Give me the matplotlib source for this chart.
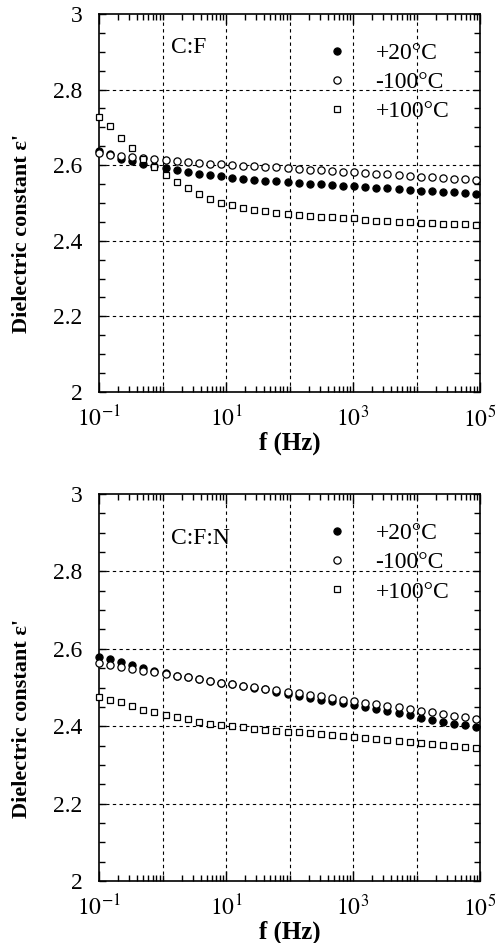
import numpy as np
import matplotlib
matplotlib.use("Agg")
import matplotlib.pyplot as plt
from matplotlib.ticker import LogLocator, NullFormatter, MultipleLocator

plt.rcParams['font.family'] = ['Liberation Serif', 'DejaVu Serif']
plt.rcParams['mathtext.fontset'] = 'stix'

# frequency sweep (Hz), 35 points
freq = [0.100, 0.1495, 0.2236, 0.3343, 0.4997, 0.7471, 1.117, 1.671, 2.498, 3.736,
        5.586, 8.351, 12.49, 18.67, 27.92, 41.74, 62.41, 93.33, 139.5, 208.6,
        311.9, 466.5, 697.4, 1043, 1560, 2331, 3486, 5213, 7795, 11655,
        17426, 26056, 38957, 58248, 87096]

# C:F sample
cf_p20 = [2.638, 2.630, 2.616, 2.611, 2.603, 2.598, 2.592, 2.586, 2.582, 2.577,
          2.573, 2.571, 2.567, 2.564, 2.562, 2.559, 2.557, 2.556, 2.553, 2.551,
          2.549, 2.548, 2.546, 2.544, 2.542, 2.540, 2.539, 2.537, 2.535, 2.533,
          2.532, 2.530, 2.528, 2.526, 2.525]
cf_m100 = [2.631, 2.627, 2.623, 2.621, 2.618, 2.616, 2.614, 2.611, 2.608, 2.607,
           2.604, 2.602, 2.601, 2.599, 2.597, 2.595, 2.594, 2.592, 2.589, 2.587,
           2.586, 2.585, 2.583, 2.581, 2.579, 2.577, 2.576, 2.573, 2.571, 2.570,
           2.568, 2.566, 2.564, 2.563, 2.561]
cf_p100 = [2.727, 2.704, 2.673, 2.645, 2.616, 2.594, 2.574, 2.556, 2.539, 2.525,
           2.511, 2.501, 2.494, 2.488, 2.482, 2.478, 2.474, 2.471, 2.468, 2.466,
           2.464, 2.462, 2.460, 2.459, 2.455, 2.453, 2.452, 2.451, 2.449, 2.448,
           2.447, 2.445, 2.444, 2.444, 2.443]

# C:F:N sample
cfn_p20 = [2.579, 2.574, 2.565, 2.558, 2.551, 2.542, 2.537, 2.531, 2.526, 2.522,
           2.518, 2.512, 2.508, 2.503, 2.499, 2.495, 2.489, 2.484, 2.479, 2.474,
           2.468, 2.464, 2.461, 2.456, 2.449, 2.444, 2.439, 2.433, 2.428, 2.422,
           2.417, 2.412, 2.407, 2.402, 2.397]
cfn_m100 = [2.563, 2.559, 2.553, 2.549, 2.544, 2.539, 2.534, 2.531, 2.526, 2.522,
            2.518, 2.513, 2.510, 2.505, 2.502, 2.497, 2.493, 2.489, 2.485, 2.482,
            2.477, 2.473, 2.469, 2.465, 2.461, 2.457, 2.453, 2.449, 2.445, 2.440,
            2.436, 2.432, 2.427, 2.423, 2.419]
cfn_p100 = [2.475, 2.468, 2.462, 2.453, 2.443, 2.436, 2.430, 2.423, 2.418, 2.412,
            2.407, 2.403, 2.400, 2.397, 2.393, 2.390, 2.388, 2.386, 2.384, 2.382,
            2.380, 2.377, 2.375, 2.372, 2.370, 2.367, 2.365, 2.362, 2.360, 2.357,
            2.355, 2.352, 2.350, 2.347, 2.345]

labels = ['+20°C', '-100°C', '+100°C']
xticks = [1e-1, 1e1, 1e3, 1e5]
xtick_labels = ['$10^{-1}$', '$10^{1}$', '$10^{3}$', '$10^{5}$']
xgrid = [1, 10, 100, 1e3, 1e4]
yticks = [2, 2.2, 2.4, 2.6, 2.8, 3]
ytick_labels = ['2', '2.2', '2.4', '2.6', '2.8', '3']
ygrid = [2.2, 2.4, 2.6, 2.8]

fig = plt.figure(figsize=(5, 9.43), dpi=100)
ax1 = fig.add_axes([0.198, 0.5843, 0.762, 0.4009])
ax2 = fig.add_axes([0.198, 0.0657, 0.762, 0.4104])


def draw_panel(ax, p20, m100, p100, name, name_y):
    ax.plot(freq, p20, 'o', ms=5.2, mfc='black', mec='black', mew=0.8,
            clip_on=False, zorder=3, label=labels[0])
    ax.plot(freq, m100, 'o', ms=5.2, mfc='white', mec='black', mew=0.9,
            clip_on=False, zorder=4, label=labels[1])
    ax.plot(freq, p100, 's', ms=4.8, mfc='white', mec='black', mew=0.9,
            clip_on=False, zorder=5, label=labels[2])
    ax.set_xscale('log')
    ax.set_xlim(0.1, 1e5)
    ax.set_ylim(2, 3)
    ax.set_xticks(xticks)
    ax.set_xticklabels(xtick_labels)
    ax.xaxis.set_minor_locator(LogLocator(base=10, subs=np.arange(1, 10), numticks=20))
    ax.xaxis.set_minor_formatter(NullFormatter())
    ax.set_yticks(yticks)
    ax.set_yticklabels(ytick_labels)
    ax.yaxis.set_minor_locator(MultipleLocator(0.05))
    for g in xgrid:
        ax.axvline(g, color='black', ls=(0, (3, 3)), lw=0.8, zorder=1)
    for g in ygrid:
        ax.axhline(g, color='black', ls=(0, (3, 3)), lw=0.8, zorder=1)
    ax.tick_params(which='both', direction='in', top=True, right=True,
                   labelsize=17, width=1.0)
    ax.tick_params(axis='y', which='major', length=5, pad=12)
    ax.tick_params(axis='y', which='minor', length=4)
    ax.tick_params(axis='x', which='major', length=7, pad=10)
    ax.tick_params(axis='x', which='minor', length=4)
    for s in ax.spines.values():
        s.set_linewidth(1.2)
    ax.set_xlabel('f (Hz)', fontsize=18, fontweight='bold', labelpad=0)
    ax.set_ylabel("Dielectric constant ε'", fontsize=16, fontweight='bold')
    ax.yaxis.set_label_coords(-0.176, 0.42)
    ax.text(0.19, name_y, name, transform=ax.transAxes, fontsize=17,
            ha='left', va='center')
    ax.legend(loc='upper left', bbox_to_anchor=(0.568, 0.95), frameon=False,
              fontsize=17, handlelength=1.0, handletextpad=1.15,
              labelspacing=0.32, borderaxespad=0, numpoints=1)


draw_panel(ax1, cf_p20, cf_m100, cf_p100, 'C:F', 0.91)
draw_panel(ax2, cfn_p20, cfn_m100, cfn_p100, 'C:F:N', 0.885)

fig.savefig('out.png', dpi=100)
